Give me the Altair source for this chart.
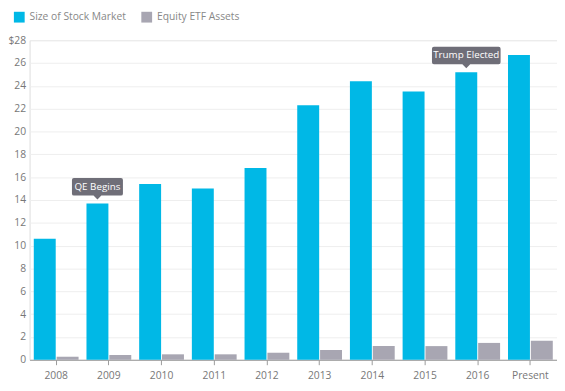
import altair as alt
import pandas as pd

years = ["2008", "2009", "2010", "2011", "2012", "2013", "2014", "2015", "2016", "Present"]
stock_market = [10.6, 13.7, 15.4, 15.0, 16.8, 22.3, 24.4, 23.5, 25.2, 26.7]
etf_assets = [0.27, 0.42, 0.48, 0.48, 0.62, 0.86, 1.2, 1.2, 1.48, 1.66]
series_names = ["Size of Stock Market", "Equity ETF Assets"]
series_colors = ["#00b8e6", "#a8a6b2"]
y_ticks = [0, 2, 4, 6, 8, 10, 12, 14, 16, 18, 20, 22, 24, 26, 28]

note_years = ["2009", "2016"]
note_texts = ["QE Begins", "Trump Elected"]

rows = []
for y, s, e in zip(years, stock_market, etf_assets):
    rows.append({"year": y, "series": series_names[0], "value": s})
    rows.append({"year": y, "series": series_names[1], "value": e})
df = pd.DataFrame(rows)

notes = pd.DataFrame({
    "year": note_years,
    "series": [series_names[0]] * len(note_years),
    "value": [stock_market[years.index(y)] for y in note_years],
    "text": note_texts,
})

FONT = "Open Sans"

x_enc = alt.X("year:N", sort=years,
              scale=alt.Scale(paddingInner=0.15, paddingOuter=0.08),
              axis=alt.Axis(title=None, labelAngle=0, labelFont=FONT, labelFontSize=10.5,
                            labelColor="#777777", domainColor="#9a9a9a", tickColor="#9a9a9a",
                            tickSize=5, labelPadding=6, grid=False))
xo_enc = alt.XOffset("series:N", sort=series_names, scale=alt.Scale(paddingInner=0.04))
y_enc = alt.Y("value:Q", scale=alt.Scale(domain=[0, 28], nice=False),
              axis=alt.Axis(title=None, values=y_ticks, labelFont=FONT,
                            labelFontSize=10.5, labelColor="#777777", domain=False, ticks=False,
                            labelPadding=4, gridColor="#eeeeee", labelOverlap=False,
                            labelExpr="datum.value == 28 ? '$28' : datum.label"))

bars = alt.Chart(df).mark_bar().encode(
    x=x_enc,
    xOffset=xo_enc,
    y=y_enc,
    color=alt.Color("series:N", sort=series_names,
                    scale=alt.Scale(domain=series_names, range=series_colors),
                    legend=alt.Legend(title=None, orient="none", direction="horizontal",
                                      legendX=-16, legendY=-29, symbolType="square",
                                      symbolSize=121, symbolStrokeWidth=0, labelFont=FONT,
                                      labelFontSize=10.5, labelColor="#888888",
                                      labelOffset=5, columnPadding=15)),
)

def box_path(w):
    h = w / 2
    r = 2
    return (f"M{-h + r},-26 L{h - r},-26 Q{h},-26 {h},{-26 + r} L{h},{-8 - r} Q{h},-8 {h - r},-8 "
            f"L4,-8 L0,-4 L-4,-8 L{-h + r},-8 Q{-h},-8 {-h},{-8 - r} L{-h},{-26 + r} Q{-h},-26 {-h + r},-26 Z")

layers = [bars]
widths = [52, 70]
for i, t in enumerate(note_texts):
    d = notes[notes["text"] == t]
    box = alt.Chart(d).mark_point(shape=box_path(widths[i]), size=4, filled=True,
                                  fill="#6f6e78", opacity=1, strokeWidth=0).encode(
        x=x_enc, xOffset=xo_enc, y=y_enc)
    txt = alt.Chart(d).mark_text(dy=-17, color="white", font=FONT, fontSize=10,
                                 baseline="middle", align="center").encode(
        x=x_enc, xOffset=xo_enc, y=y_enc, text="text:N")
    layers += [box, txt]

chart = alt.layer(*layers).properties(
    width=538, height=326,
    autosize=alt.AutoSizeParams(type="none"),
    padding={"left": 22, "top": 29, "right": 0, "bottom": 30},
).configure_view(stroke=None).configure(background="white")

chart.save("out.html", embed_options={"renderer": "svg", "actions": False})
